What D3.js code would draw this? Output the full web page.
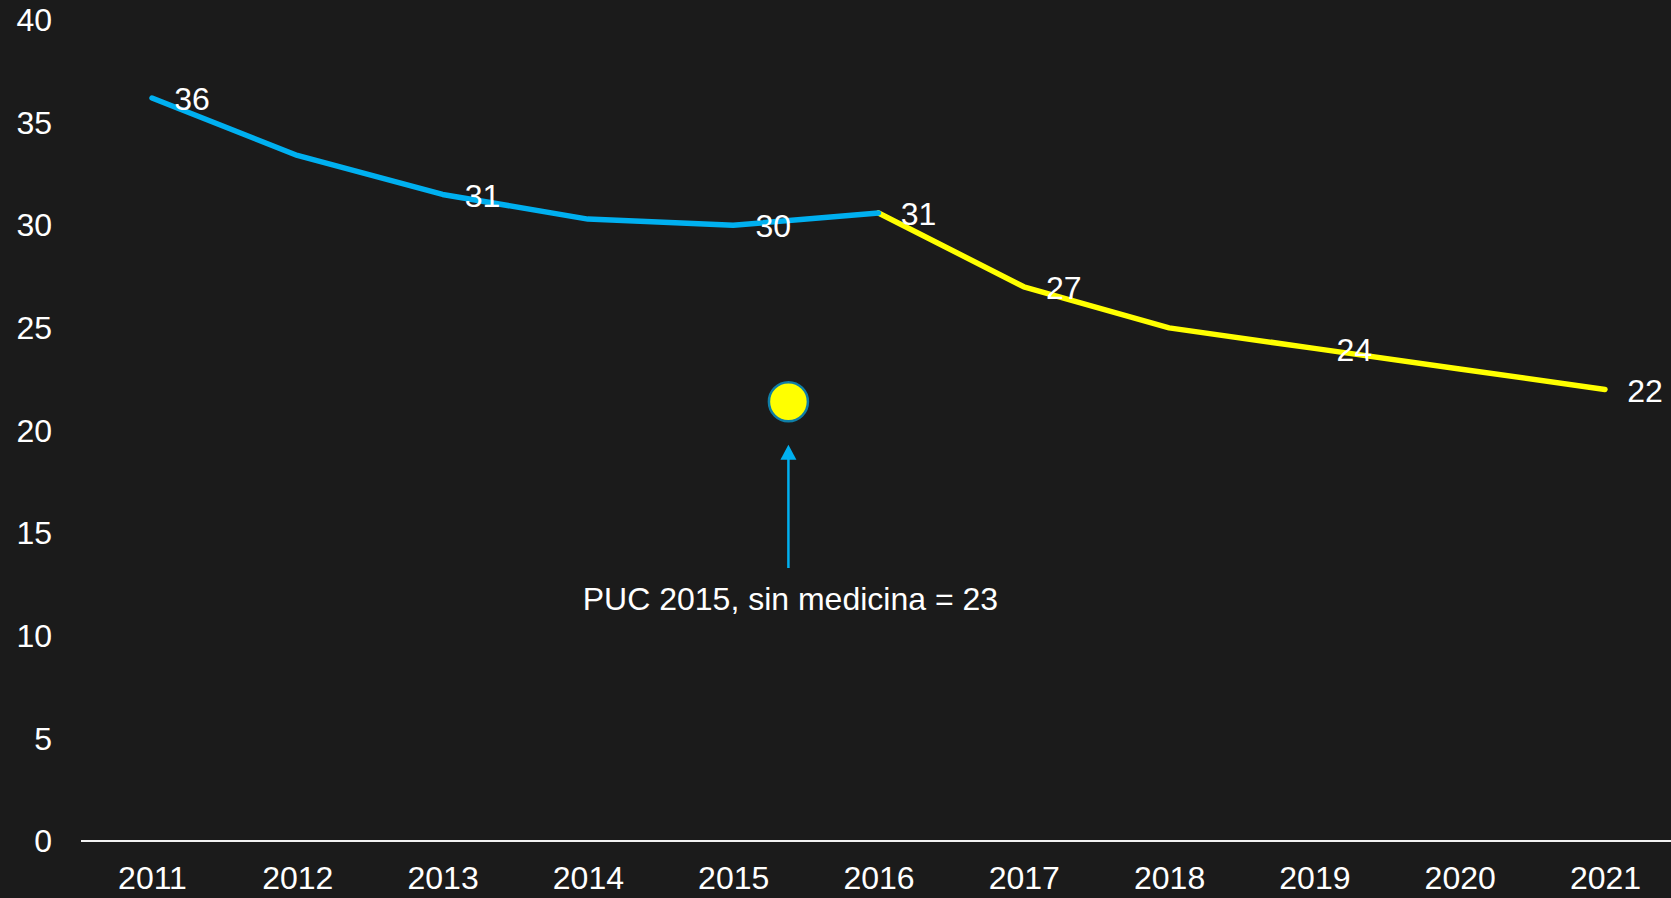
<!DOCTYPE html>
<html>
<head>
<meta charset="utf-8">
<script src="https://cdn.jsdelivr.net/npm/d3@7"></script>
<style>
  html, body { margin: 0; padding: 0; background: #1b1b1b; }
  svg { display: block; }
  text { font-family: "Liberation Sans", Arial, sans-serif; fill: #ffffff; }
</style>
</head>
<body>
<script>
let years = [2011, 2012, 2013, 2014, 2015, 2016, 2017, 2018, 2019, 2020, 2021];
let values = [36.2, 33.4, 31.5, 30.3, 30.0, 30.6, 27.0, 25.0, 24.0, 23.0, 22.0];
let labelYears = [2011, 2013, 2015, 2016, 2017, 2019, 2021];
let labelTexts = ["36", "31", "30", "31", "27", "24", "22"];
let yTicks = [0, 5, 10, 15, 20, 25, 30, 35, 40];
let blueYears = [2011, 2012, 2013, 2014, 2015, 2016];
let yellowYears = [2016, 2017, 2018, 2019, 2020, 2021];
let pucYear = 2015.38;
let pucValue = 21.4;
let arrowFrom = 13.3;
let arrowTo = 19.3;
let pucText = "PUC 2015, sin medicina = 23";

let width = 1671;
let height = 898;
let fontSize = "32px";

let xScale = d3.scaleLinear().domain([2011, 2021]).range([152, 1605]);
let yScale = d3.scaleLinear().domain([0, 40]).range([841, 20]);

let svg = d3
  .select("body")
  .append("svg")
  .attr("width", width)
  .attr("height", height);

svg.append("rect").attr("width", width).attr("height", height).attr("fill", "#1b1b1b");

let valueOf = (yr) => values[years.indexOf(yr)];

// y tick labels, no axis line in the original
svg
  .selectAll("text.ytick")
  .data(yTicks)
  .enter()
  .append("text")
  .attr("class", "ytick")
  .attr("x", 52)
  .attr("y", (d) => yScale(d))
  .attr("dy", "0.35em")
  .attr("text-anchor", "end")
  .attr("font-size", fontSize)
  .text((d) => d);

// x axis
let xAxis = d3
  .axisBottom(xScale)
  .tickValues(years)
  .tickFormat(d3.format("d"))
  .tickSize(0)
  .tickPadding(25);

let gx = svg.append("g").attr("transform", `translate(0,${yScale(0)})`).call(xAxis);
gx.select(".domain").remove();
gx.selectAll("text")
  .attr("font-size", fontSize)
  .attr("fill", "#ffffff")
  .style("font-family", '"Liberation Sans", Arial, sans-serif');
gx.append("line")
  .attr("x1", 81)
  .attr("x2", width)
  .attr("stroke", "#f2f2f2")
  .attr("stroke-width", 2);

let line = d3
  .line()
  .x((d) => xScale(d))
  .y((d) => yScale(valueOf(d)));

svg
  .append("path")
  .datum(yellowYears)
  .attr("d", line)
  .attr("fill", "none")
  .attr("stroke", "#ffff00")
  .attr("stroke-width", 5.5)
  .attr("stroke-linecap", "round")
  .attr("stroke-linejoin", "round");

svg
  .append("path")
  .datum(blueYears)
  .attr("d", line)
  .attr("fill", "none")
  .attr("stroke", "#00b0f0")
  .attr("stroke-width", 5.5)
  .attr("stroke-linecap", "round")
  .attr("stroke-linejoin", "round");

// data labels
svg
  .selectAll("text.dlabel")
  .data(labelYears)
  .enter()
  .append("text")
  .attr("class", "dlabel")
  .attr("x", (d) => xScale(d) + 40)
  .attr("y", (d) => yScale(valueOf(d)) + 1)
  .attr("dy", "0.35em")
  .attr("text-anchor", "middle")
  .attr("font-size", fontSize)
  .text((d, i) => labelTexts[i]);

// PUC marker
svg
  .append("circle")
  .attr("cx", xScale(pucYear))
  .attr("cy", yScale(pucValue))
  .attr("r", 19.5)
  .attr("fill", "#ffff00")
  .attr("stroke", "#0f7ea6")
  .attr("stroke-width", 2.5);

// arrow
let ax = xScale(pucYear);
let tipY = yScale(arrowTo);
svg
  .append("line")
  .attr("x1", ax)
  .attr("x2", ax)
  .attr("y1", yScale(arrowFrom))
  .attr("y2", tipY + 14)
  .attr("stroke", "#00b0f0")
  .attr("stroke-width", 2.5);
svg
  .append("path")
  .attr("d", `M${ax},${tipY} L${ax - 8},${tipY + 15} L${ax + 8},${tipY + 15} Z`)
  .attr("fill", "#00b0f0");

svg
  .append("text")
  .attr("x", ax + 2)
  .attr("y", yScale(arrowFrom) + 31)
  .attr("dy", "0.35em")
  .attr("text-anchor", "middle")
  .attr("font-size", fontSize)
  .text(pucText);
</script>
</body>
</html>
